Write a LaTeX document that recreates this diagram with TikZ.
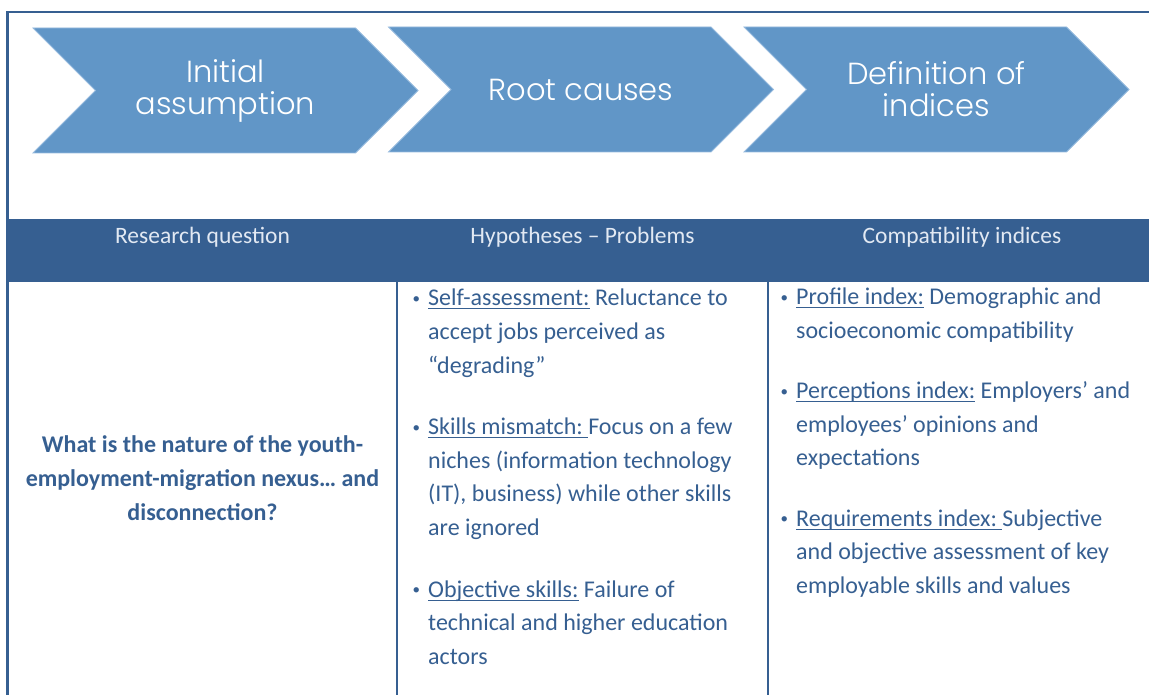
\documentclass[tikz,border=0pt]{standalone}
\usepackage{fontspec}
\setmainfont{Carlito}
\newfontfamily\chevfont[UprightFont=* Light]{Poppins}
\usetikzlibrary{shapes,positioning}
\definecolor{barblue}{RGB}{54,95,145}
\definecolor{chevblue}{RGB}{97,150,199}
\definecolor{chevedge}{RGB}{150,186,222}
\definecolor{headtext}{RGB}{226,233,243}
\newcommand{\undl}[1]{\setbox0\hbox{#1}\rlap{\rule[-3.5pt]{\wd0}{0.9pt}}\box0{}}
\newcommand{\itembul}{\llap{\raisebox{2.5pt}{\fontsize{15}{15}\selectfont\textbullet}\hspace{8pt}}}
\tikzset{
  chevron/.style={signal, signal to=east, signal from=west, fill=chevblue,
    draw=chevedge, line width=0.8pt, minimum width=385pt, minimum height=125pt,
    inner sep=0pt, text=white, align=center,
    font=\chevfont\fontsize{30.5}{32}\selectfont},
  headtxt/.style={text=headtext, inner sep=0pt, font=\fontsize{23.5}{26}\selectfont},
  bodytxt/.style={text=barblue, align=left, inner sep=0pt, anchor=north west,
    font=\fontsize{24}{33.6}\selectfont}
}
\begin{document}
\begin{tikzpicture}[x=1pt,y=-1pt]
\useasboundingbox (0,0) rectangle (1149,695);
% table frame
\fill[barblue] (8,219) rectangle (1149,282);
\draw[barblue, line width=2.2pt] (7.5,695) -- (7.5,12) -- (1149,12);
\draw[barblue, line width=2pt] (397,282) -- (397,695);
\draw[barblue, line width=2pt] (768,282) -- (768,695);

% process chevrons
\node[chevron] (assume) at (225.5,90.5) {Initial\\assumption};
\node[chevron] (causes) at (581,89.5) {Root causes};
\node[chevron] (indices) at (936.5,89.5) {Definition of\\indices};

% header row
\node[headtxt] (rq) at (202.5,237) {Research question};
\node[headtxt] (hp) at (582.5,237) {Hypotheses -- Problems};
\node[headtxt] (ci) at (962,237) {Compatibility indices};

% columns
\node[bodytxt, align=center, anchor=center, font=\bfseries\fontsize{24}{34}\selectfont]
  (question) at (202.5,478) {What is the nature of the youth-\\employment-migration nexus… and\\disconnection?};
\node[bodytxt] (hypo) at (428,289) {\itembul\undl{Self-assessment:} Reluctance to\\accept jobs perceived as\\“degrading”\\[28pt]
  \itembul\undl{Skills mismatch:\ }Focus on a few\\niches (information technology\\(IT), business) while other skills\\are ignored\\[28pt]
  \itembul\undl{Objective skills:} Failure of\\technical and higher education\\actors};
\node[bodytxt] (index) at (796,288) {\itembul\undl{Profile index:} Demographic and\\socioeconomic compatibility\\[26.5pt]
  \itembul\undl{Perceptions index:} Employers’ and\\employees’ opinions and\\expectations\\[27pt]
  \itembul\undl{Requirements index:\ }Subjective\\and objective assessment of key\\employable skills and values};
\end{tikzpicture}
\end{document}
